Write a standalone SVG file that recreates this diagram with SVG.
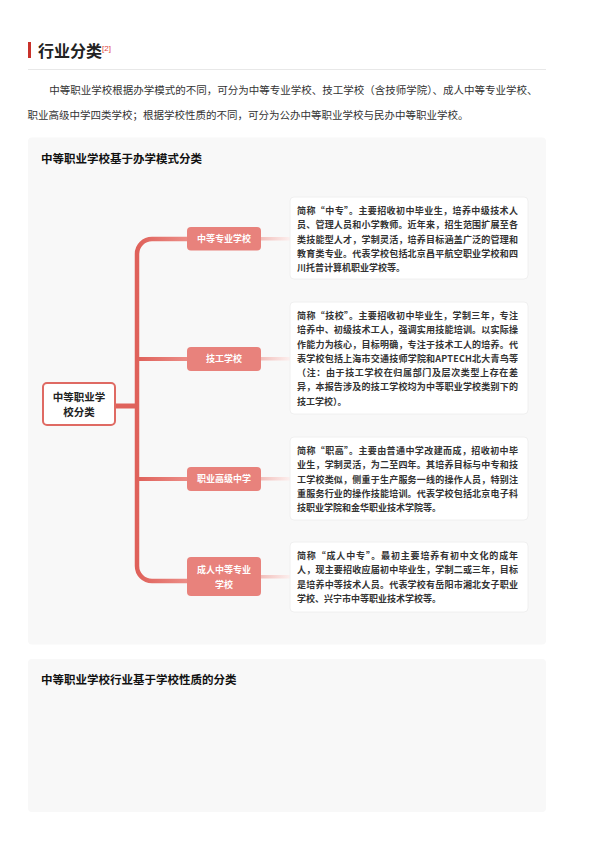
<svg xmlns="http://www.w3.org/2000/svg" width="594" height="841" viewBox="0 0 594 841">
<defs>
<style>
text{font-family:"Liberation Sans","Noto Sans CJK SC",sans-serif;}
.h1{font-size:16px;font-weight:bold;fill:#222;}
.sup{font-size:8px;fill:#e0443c;}
.p{font-size:10.5px;fill:#333;}
.pt{font-size:11.5px;font-weight:bold;fill:#111;}
.panel{fill:#f8f8f8;}
.root{fill:#fff;stroke:#df6a63;stroke-width:2;}
.rt{font-size:10.5px;font-weight:bold;fill:#222;text-anchor:middle;}
.br{fill:#e8827c;}
.bt{font-size:9px;font-weight:bold;fill:#fff;text-anchor:middle;}
.box{fill:#fff;stroke:#ececec;stroke-width:0.8;}
.d{font-family:"Noto Sans CJK SC","Liberation Sans",sans-serif;font-size:9px;font-weight:bold;fill:#333;}
.pale{fill:url(#pg);}
</style>
<linearGradient id="lg" gradientUnits="userSpaceOnUse" x1="137" y1="0" x2="187" y2="0">
<stop offset="0" stop-color="#df615a"/>
<stop offset="1" stop-color="#ec8d87"/>
</linearGradient>
<linearGradient id="pg" x1="0" y1="0" x2="1" y2="0">
<stop offset="0" stop-color="#f2bfbb"/>
<stop offset="1" stop-color="#fcefee"/>
</linearGradient>
</defs>
<rect width="594" height="841" fill="#fff"/>
<g id="header">
<rect x="28" y="42" width="3" height="16" fill="#c8322b"/>
<text class="h1" x="38" y="56.5">行业分类</text>
<text class="sup" x="102" y="50.5">[2]</text>
<line x1="28" y1="69.5" x2="546" y2="69.5" stroke="#e8e8e8" stroke-width="1"/>
<text class="p" x="49.3" y="93.8">中等职业学校根据办学模式的不同，可分为中等专业学校、技工学校（含技师学院）、成人中等专业学校、</text>
<text class="p" x="27.5" y="118.8">职业高级中学四类学校；根据学校性质的不同，可分为公办中等职业学校与民办中等职业学校。</text>
</g>
<g id="panel1">
<rect class="panel" x="28" y="137.5" width="518" height="507" rx="4"/>
<text class="pt" x="41" y="163">中等职业学校基于办学模式分类</text>
</g>
<g id="connectors">
<rect x="114" y="403.5" width="24" height="5" fill="#df625b"/>
<path d="M187 239 H152 A15 15 0 0 0 137 254 V566 A15 15 0 0 0 152 581 H187" fill="none" stroke="url(#lg)" stroke-width="4.5"/>
<path d="M137 359 H187" fill="none" stroke="url(#lg)" stroke-width="4"/>
<path d="M137 479 H187" fill="none" stroke="url(#lg)" stroke-width="4"/>
<rect class="pale" x="261" y="237" width="29" height="3.5"/>
<rect class="pale" x="261" y="357" width="29" height="3.5"/>
<rect class="pale" x="261" y="477" width="29" height="3.5"/>
<rect class="pale" x="261" y="575" width="29" height="3.5"/>
</g>
<g id="root">
<rect class="root" x="43" y="383" width="72" height="42" rx="4"/>
<text class="rt" x="79" y="400.5">中等职业学</text>
<text class="rt" x="79" y="416">校分类</text>
</g>
<g id="node-zhongzhuan">
<rect class="br" x="187" y="227" width="74" height="23.5" rx="4"/>
<text class="bt" x="224" y="242">中等专业学校</text>
</g>
<g id="node-jixiao">
<rect class="br" x="187" y="347" width="74" height="24" rx="4"/>
<text class="bt" x="224" y="362">技工学校</text>
</g>
<g id="node-zhigao">
<rect class="br" x="187" y="467" width="74" height="24" rx="4"/>
<text class="bt" x="224" y="482">职业高级中学</text>
</g>
<g id="node-chengren">
<rect class="br" x="187" y="557" width="74" height="39" rx="4"/>
<text class="bt" x="224" y="573.3">成人中等专业</text>
<text class="bt" x="224" y="587.6">学校</text>
</g>
<g id="box-zhongzhuan">
<rect class="box" x="290" y="197" width="238" height="82" rx="4"/>
<text class="d" x="297" y="214" textLength="221" lengthAdjust="spacing">简称“中专”。主要招收初中毕业生，培养中级技术人</text>
<text class="d" x="297" y="228.3" textLength="221" lengthAdjust="spacing">员、管理人员和小学教师。近年来，招生范围扩展至各</text>
<text class="d" x="297" y="242.6" textLength="221" lengthAdjust="spacing">类技能型人才，学制灵活，培养目标涵盖广泛的管理和</text>
<text class="d" x="297" y="256.9" textLength="221" lengthAdjust="spacing">教育类专业。代表学校包括北京昌平航空职业学校和四</text>
<text class="d" x="297" y="271.2">川托普计算机职业学校等。</text>
</g>
<g id="box-jixiao">
<rect class="box" x="290" y="302" width="238" height="112" rx="4"/>
<text class="d" x="297" y="318.9" textLength="221" lengthAdjust="spacing">简称“技校”。主要招收初中毕业生，学制三年，专注</text>
<text class="d" x="297" y="333.2" textLength="221" lengthAdjust="spacing">培养中、初级技术工人，强调实用技能培训。以实际操</text>
<text class="d" x="297" y="347.5" textLength="221" lengthAdjust="spacing">作能力为核心，目标明确，专注于技术工人的培养。代</text>
<text class="d" x="297" y="361.8" textLength="221" lengthAdjust="spacing">表学校包括上海市交通技师学院和APTECH北大青鸟等</text>
<text class="d" x="297" y="376.1" textLength="221" lengthAdjust="spacing">（注：由于技工学校在归属部门及层次类型上存在差</text>
<text class="d" x="297" y="390.4" textLength="221" lengthAdjust="spacing">异，本报告涉及的技工学校均为中等职业学校类别下的</text>
<text class="d" x="297" y="404.7">技工学校）。</text>
</g>
<g id="box-zhigao">
<rect class="box" x="290" y="437" width="238" height="83" rx="4"/>
<text class="d" x="297" y="453.9" textLength="221" lengthAdjust="spacing">简称“职高”。主要由普通中学改建而成，招收初中毕</text>
<text class="d" x="297" y="468.2" textLength="221" lengthAdjust="spacing">业生，学制灵活，为二至四年。其培养目标与中专和技</text>
<text class="d" x="297" y="482.5" textLength="221" lengthAdjust="spacing">工学校类似，侧重于生产服务一线的操作人员，特别注</text>
<text class="d" x="297" y="496.8" textLength="221" lengthAdjust="spacing">重服务行业的操作技能培训。代表学校包括北京电子科</text>
<text class="d" x="297" y="511.1">技职业学院和金华职业技术学院等。</text>
</g>
<g id="box-chengren">
<rect class="box" x="290" y="542" width="238" height="70" rx="4"/>
<text class="d" x="297" y="558.9" textLength="221" lengthAdjust="spacing">简称“成人中专”。最初主要培养有初中文化的成年</text>
<text class="d" x="297" y="573.2" textLength="221" lengthAdjust="spacing">人，现主要招收应届初中毕业生，学制二或三年，目标</text>
<text class="d" x="297" y="587.5" textLength="221" lengthAdjust="spacing">是培养中等技术人员。代表学校有岳阳市湘北女子职业</text>
<text class="d" x="297" y="601.8">学校、兴宁市中等职业技术学校等。</text>
</g>
<g id="panel2">
<rect class="panel" x="28" y="659" width="518" height="153" rx="4"/>
<text class="pt" x="41" y="684">中等职业学校行业基于学校性质的分类</text>
</g>
</svg>
